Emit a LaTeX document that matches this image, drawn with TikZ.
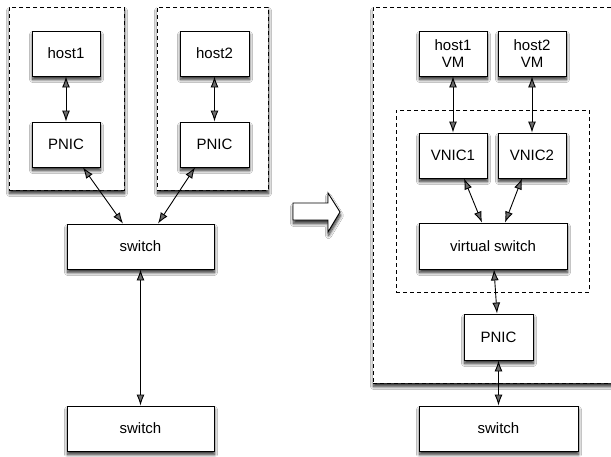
\documentclass[tikz,border=0pt]{standalone}
\usepackage{fontspec}
\setmainfont{Liberation Sans}
\usetikzlibrary{arrows.meta,shadows.blur,calc}
\begin{document}
\begin{tikzpicture}[x=1pt,y=-1pt,
  shd/.style={blur shadow={shadow xshift=0.5pt,shadow yshift=-3.5pt,shadow blur radius=3pt,shadow blur steps=8,shadow opacity=85}},
  box/.style={draw,line width=0.9pt,fill=white,shd,inner sep=0pt,align=center,
    font=\fontsize{15}{17}\selectfont,minimum height=45pt},
  container/.style={draw,line width=0.9pt,dash pattern=on 4pt off 3pt,fill=white,shd,inner sep=0pt},
  inner/.style={draw,line width=0.9pt,dash pattern=on 4pt off 3pt,inner sep=0pt},
  link/.style={line width=0.9pt,{Latex[length=11pt,width=8pt]}-{Latex[length=11pt,width=8pt]}}]
\useasboundingbox (0,0) rectangle (611,456);
\fill[white] (0,0) rectangle (611,456);
% left containers
\node[container,minimum width=115pt,minimum height=183pt] (c1) at (66.5,98.5) {};
\node[container,minimum width=111pt,minimum height=183pt] (c2) at (212.5,98.5) {};
% right container
\node[container,minimum width=267pt,minimum height=376pt] (c3) at (506.5,195) {};
\node[inner,minimum width=193pt,minimum height=182pt] (c4) at (492.5,201) {};
% left boxes
\node[box,minimum width=68pt] (host1) at (66,53.5) {host1};
\node[box,minimum width=68pt] (pnic1) at (66,144.5) {PNIC};
\node[box,minimum width=69pt] (host2) at (214.5,53.5) {host2};
\node[box,minimum width=69pt] (pnic2) at (214.5,144.5) {PNIC};
\node[box,minimum width=147pt] (sw1) at (140.5,246.5) {switch};
\node[box,minimum width=147pt] (sw2) at (140.5,428.5) {switch};
% right boxes
\node[box,minimum width=68pt] (hvm1) at (453,53.5) {host1\\VM};
\node[box,minimum width=68pt] (hvm2) at (532,53.5) {host2\\VM};
\node[box,minimum width=68pt] (vnic1) at (453,155.5) {VNIC1};
\node[box,minimum width=68pt] (vnic2) at (532,155.5) {VNIC2};
\node[box,minimum width=148pt,minimum height=46pt] (vsw) at (493,246) {virtual switch};
\node[box,minimum width=69pt,minimum height=46pt] (pnic3) at (498.5,337) {PNIC};
\node[box,minimum width=159pt] (sw3) at (498.5,428.5) {switch};
% block arrow
\draw[line width=0.9pt,fill=white,shd,line join=miter]
  (293,203) -- (328,203) -- (328,193) -- (340,212) -- (328,232) -- (328,220) -- (293,220) -- cycle;
% connectors left
\draw[link] (host1.south) -- (pnic1.north);
\draw[link] (host2.south) -- (pnic2.north);
\draw[link] ([xshift=17pt]pnic1.south) -- ([xshift=-17.5pt]sw1.north);
\draw[link] ([xshift=-19.5pt]pnic2.south) -- ([xshift=17.5pt]sw1.north);
\draw[link] (sw1.south) -- (sw2.north);
% connectors right
\draw[link] (hvm1.south) -- (vnic1.north);
\draw[link] (hvm2.south) -- (vnic2.north);
\draw[link] ([xshift=11pt]vnic1.south) -- ([xshift=-11pt]vsw.north);
\draw[link] ([xshift=-10pt]vnic2.south) -- ([xshift=12pt]vsw.north);
\draw[link] ([xshift=1pt]vsw.south) -- ([xshift=-1.5pt]pnic3.north);
\draw[link] (pnic3.south) -- (sw3.north);
\end{tikzpicture}
\end{document}
